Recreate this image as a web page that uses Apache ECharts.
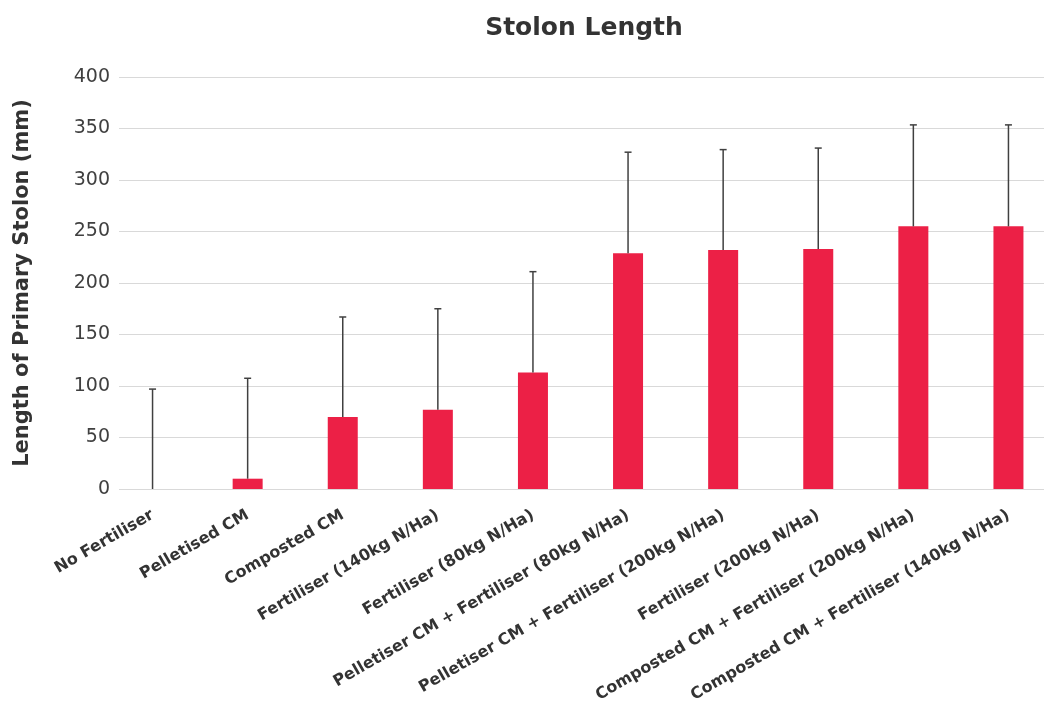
<!DOCTYPE html>
<html>
<head>
<meta charset="utf-8">
<script src="https://cdn.jsdelivr.net/npm/echarts@6/dist/echarts.min.js"></script>
<style>
html,body{margin:0;padding:0;background:#fff;overflow:hidden;width:1044px;height:702px;}
#chart{width:1056px;height:702px;}
</style>
</head>
<body>
<div id="chart"></div>
<script>
const categories = [
  'No Fertiliser',
  'Pelletised CM',
  'Composted CM',
  'Fertiliser (140kg N/Ha)',
  'Fertiliser (80kg N/Ha)',
  'Pelletiser CM + Fertiliser (80kg N/Ha)',
  'Pelletiser CM + Fertiliser (200kg N/Ha)',
  'Fertiliser (200kg N/Ha)',
  'Composted CM + Fertiliser (200kg N/Ha)',
  'Composted CM + Fertiliser (140kg N/Ha)'
];
const means = [0, 10, 70, 77, 113, 229, 232, 233, 255, 255];
const errUp = [97, 97.5, 97, 98, 98, 98, 97.5, 98, 98.5, 98.5];
const yTicks = [0, 50, 100, 150, 200, 250, 300, 350, 400];

const FONT = '"DejaVu Sans", sans-serif';
const chart = echarts.init(document.getElementById('chart'), null, {renderer: 'canvas'});

const errData = categories.map((c, i) => [i, means[i], means[i] + errUp[i]]);

chart.setOption({
  animation: false,
  backgroundColor: '#ffffff',
  title: {
    text: 'Stolon Length',
    left: 579, top: 11, textAlign: 'center',
    textStyle: {fontFamily: FONT, fontWeight: 'bold', fontSize: 25, color: '#333333'}
  },
  grid: [
    {left: 105, right: 0, top: 77, height: 412, outerBoundsMode: 'none', containLabel: false},
    {left: 119, right: 12, top: 77, height: 412, outerBoundsMode: 'none', containLabel: false}
  ],
  xAxis: [
    {
      type: 'category', gridIndex: 0, data: categories,
      axisLine: {show: false}, axisTick: {show: false},
      axisLabel: {
        interval: 0, rotate: 30, margin: 25,
        fontFamily: FONT, fontSize: 16, fontWeight: 'bold', color: '#333333'
      }
    },
    {type: 'value', gridIndex: 1, show: false, min: 0, max: 1}
  ],
  yAxis: [
    {type: 'value', gridIndex: 0, min: 0, max: 400, interval: 50, show: false},
    {
      type: 'value', gridIndex: 1, min: 0, max: 400, interval: 50,
      axisLine: {show: false}, axisTick: {show: false},
      splitLine: {lineStyle: {color: '#d9d9d9', width: 1.2}},
      axisLabel: {
        margin: 9, fontFamily: FONT, fontSize: 19, color: '#404040',
        formatter: v => yTicks.includes(v) ? String(v) : ''
      },
      name: 'Length of Primary Stolon (mm)',
      nameLocation: 'middle', nameGap: 86, nameRotate: 90,
      nameTextStyle: {fontFamily: FONT, fontWeight: 'bold', fontSize: 21, color: '#333333'}
    }
  ],
  series: [
    {
      type: 'bar', xAxisIndex: 0, yAxisIndex: 0,
      data: means, barWidth: 30,
      itemStyle: {color: '#EC2046'}
    },
    {
      type: 'custom', xAxisIndex: 0, yAxisIndex: 0,
      data: errData, z: 5,
      renderItem: function (params, api) {
        const x = api.value(0);
        const lo = api.coord([x, api.value(1)]);
        const hi = api.coord([x, api.value(2)]);
        const half = 3.5;
        const style = {stroke: '#404040', lineWidth: 1.5};
        return {
          type: 'group',
          children: [
            {type: 'line', shape: {x1: lo[0], y1: lo[1], x2: hi[0], y2: hi[1]}, style: style},
            {type: 'line', shape: {x1: hi[0] - half, y1: hi[1], x2: hi[0] + half, y2: hi[1]}, style: style}
          ]
        };
      }
    }
  ]
});
</script>
</body>
</html>
